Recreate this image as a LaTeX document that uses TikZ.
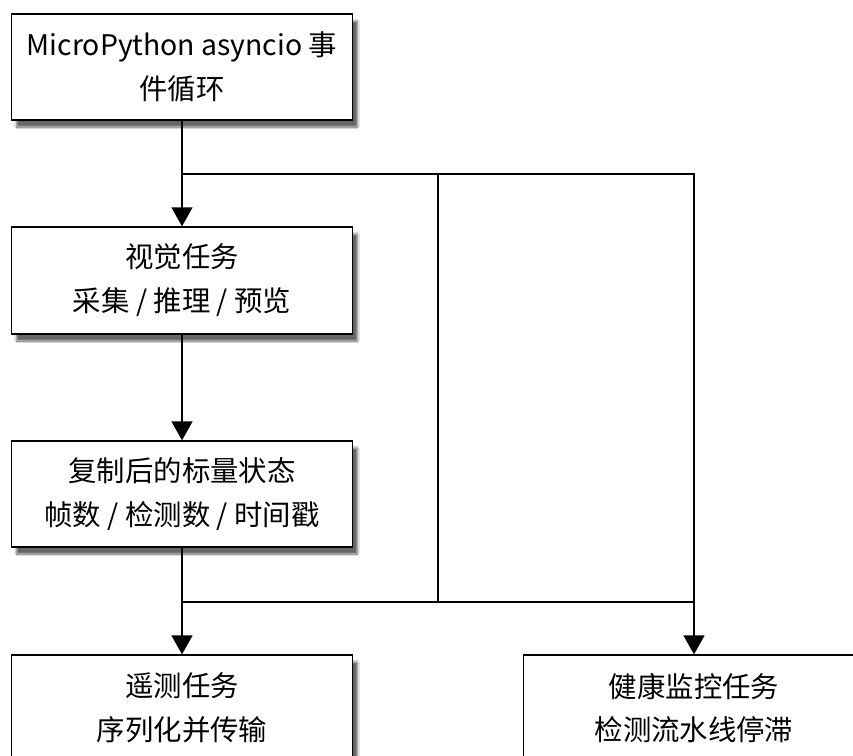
\documentclass[tikz,border=0pt]{standalone}
\usepackage{fontspec}
\newfontfamily\cjk{Noto Sans CJK SC}
\usetikzlibrary{arrows.meta,shadows.blur}
\begin{document}
\begin{tikzpicture}[x=1bp,y=-1bp,
  box/.style={draw=black,line width=1.3bp,fill=white,minimum width=341bp,minimum height=106bp,
    align=center,font=\cjk\fontsize{28.5}{44}\selectfont,inner sep=0pt,
    blur shadow={shadow xshift=5bp,shadow yshift=-7bp,shadow blur steps=8,shadow opacity=60}},
  conn/.style={line width=1.3bp,draw=black},
  arr/.style={conn,-{Triangle[length=19bp,width=21bp]}}]
\useasboundingbox (0,0) rectangle (853,756);
\fill[white] (0,0) rectangle (853,756);
\node[box] (loop) at (182,67) {MicroPython asyncio 事\\件循环};
\node[box,minimum height=107bp] (vision) at (182,280.5) {视觉任务\\采集 / 推理 / 预览};
\node[box] (state) at (182,494) {复制后的标量状态\\帧数 / 检测数 / 时间戳};
\node[box] (telem) at (182,708) {遥测任务\\序列化并传输};
\node[box] (health) at (694,708) {健康监控任务\\检测流水线停滞};
\coordinate (j1) at (182,174);
\coordinate (j2) at (438,174);
\coordinate (j3) at (182,602);
\coordinate (j4) at (438,602);
\draw[arr] (loop.south) -- (vision.north);
\draw[arr] (vision.south) -- (state.north);
\draw[arr] (state.south) -- (telem.north);
\draw[arr] (j1) -| (health.north);
\draw[conn] (j2) -- (j4);
\draw[conn] (j3) -- (health.north |- j3);
\end{tikzpicture}
\end{document}
